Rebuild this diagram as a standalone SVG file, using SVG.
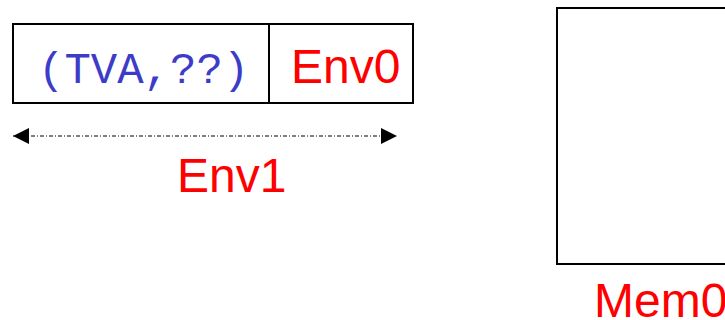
<svg xmlns="http://www.w3.org/2000/svg" width="725" height="320" viewBox="0 0 725 320">
<defs>
<style>
.box{fill:#fff;stroke:#000;stroke-width:2}
.red{fill:#ff0000;font-family:"Liberation Sans",Arial,sans-serif;font-size:48px}
.mono{fill:#3c3cc8;font-family:"Liberation Mono","Courier New",monospace;font-size:44px}
.conn{stroke:#000;stroke-width:1;stroke-dasharray:4,2,1,2;fill:none}
</style>
<marker id="ah" viewBox="0 0 16 16" refX="16" refY="8" markerWidth="16" markerHeight="16" markerUnits="userSpaceOnUse" orient="auto-start-reverse">
<path d="M0,0 L16,8 L0,16 Z" fill="#000"/>
</marker>
</defs>
<rect width="725" height="320" fill="#fff"/>
<g id="env-record">
<rect class="box" x="13" y="24" width="400" height="79"/>
<line x1="269" y1="24" x2="269" y2="103" stroke="#000" stroke-width="2"/>
<text class="mono" x="38" y="83">(TVA,??)</text>
<text class="red" x="291" y="83">Env0</text>
</g>
<g id="connectors">
<line class="conn" x1="13" y1="136" x2="397" y2="136" marker-start="url(#ah)" marker-end="url(#ah)"/>
</g>
<g id="env1-label">
<text class="red" x="177" y="192">Env1</text>
</g>
<g id="mem0">
<rect class="box" x="557" y="8" width="180" height="256"/>
<text class="red" x="594" y="317">Mem0</text>
</g>
</svg>
